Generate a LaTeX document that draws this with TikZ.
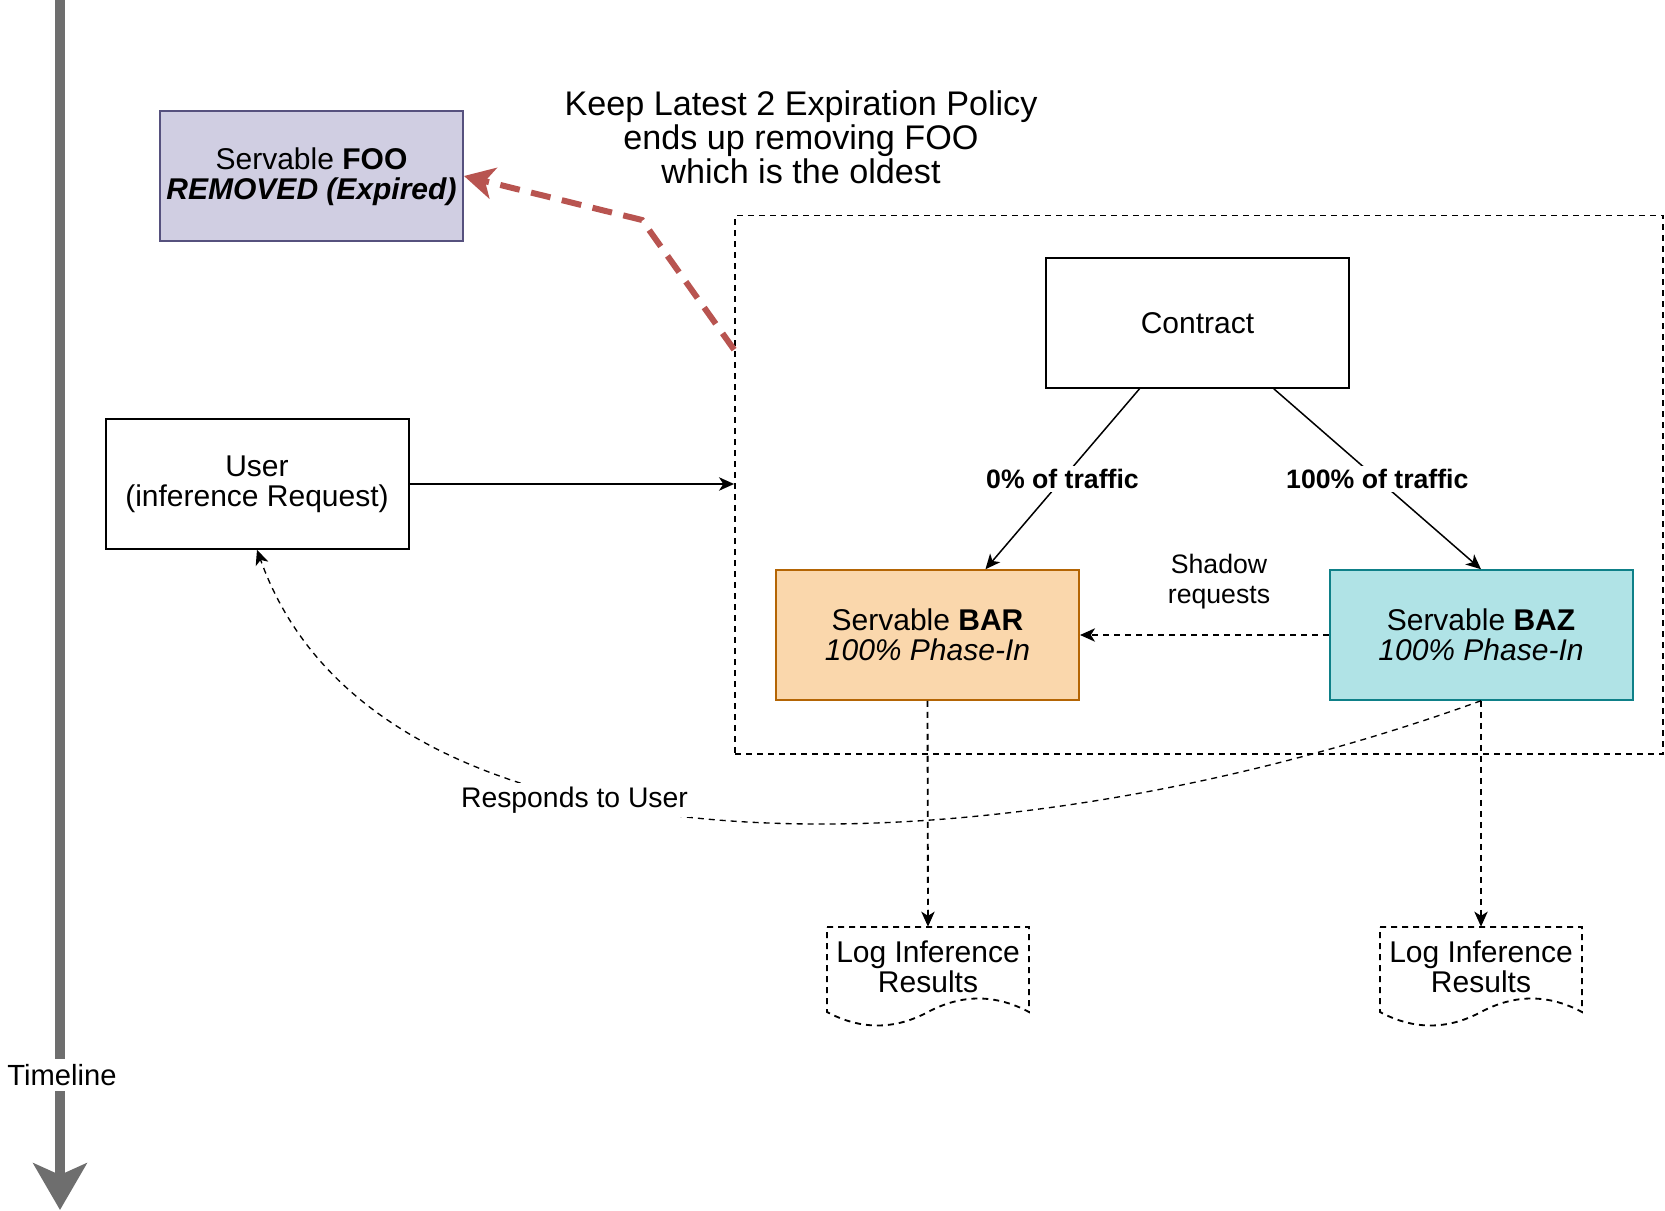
\documentclass[tikz,border=0pt]{standalone}
\usepackage{fontspec}
\setmainfont{Liberation Sans}
\usetikzlibrary{arrows.meta,calc}
\definecolor{foofill}{HTML}{D0CEE2}
\definecolor{foodraw}{HTML}{56517E}
\definecolor{barfill}{HTML}{FAD7AC}
\definecolor{bardraw}{HTML}{B46504}
\definecolor{bazfill}{HTML}{B0E3E6}
\definecolor{bazdraw}{HTML}{0E8088}
\definecolor{expired}{HTML}{B85450}
\definecolor{tlgray}{HTML}{6E6E6E}

\begin{document}
\begin{tikzpicture}[x=0.6pt,y=-0.6pt]
\tikzstyle{every node}+=[inner sep=0pt, align=center, font=\fontsize{18}{18}\selectfont]
\tikzstyle{box}=[draw=black, line width=1.2pt, minimum width=181.8pt, minimum height=77.7pt]
\tikzstyle{lbl}=[fill=white, inner sep=2pt, font=\fontsize{16}{18}\selectfont]
\tikzstyle{tip}=[-{Stealth[length=9pt,width=8pt,inset=2.5pt]}]
\tikzstyle{dashline}=[dash pattern=on 3.6pt off 3pt, line width=1.1pt]
\useasboundingbox (0,0) rectangle (1665,1211);
% timeline on the left
\coordinate (tltop) at (60,0);
\coordinate (tlend) at (60,1210);
\draw [tlgray, line width=6pt, -{Stealth[length=28pt,width=32pt,inset=7pt]}] (tltop) -- (tlend);
\node [fill=white, inner sep=3pt, font=\fontsize{17.5}{18}\selectfont] (timeline) at (62,1075) {Timeline};
% boxes
\node [box, draw=foodraw, fill=foofill, text depth=3pt] (foo) at (311.5,176) {Servable \textbf{FOO}\\\textbf{\textit{REMOVED (Expired)}}};
\node [font=\fontsize{20.5}{20.4}\selectfont] (policy) at (801,137) {Keep Latest 2 Expiration Policy\\ends up removing FOO\\which is the oldest};
\node [draw, dash pattern=on 3.6pt off 3pt, line width=1.1pt, minimum width=556.8pt, minimum height=323.1pt] (servgroup) at (1199,484.75) {};
\node [box] (contract) at (1197.5,323) {Contract};
\node [box, text depth=3pt] (user) at (257,484) {User\\(inference Request)};
\node [box, draw=bardraw, fill=barfill] (bar) at (927.5,635) {Servable \textbf{BAR}\\\textit{100\% Phase-In}};
\node [box, draw=bazdraw, fill=bazfill] (baz) at (1481,635) {Servable \textbf{BAZ}\\\textit{100\% Phase-In}};
% log documents
\foreach \n/\x in {barlog/928, bazlog/1481} {
  \draw [dashline] ({\x-101},927) -- ({\x+101},927) -- ({\x+101},1012)
    .. controls ({\x+67.3},994) and ({\x+33.7},994) .. (\x,1012)
    .. controls ({\x-33.7},1030) and ({\x-67.3},1030) .. ({\x-101},1012) -- cycle;
  \node [minimum width=121.2pt, minimum height=48pt] (\n) at (\x,967) {Log Inference\\Results};
}
% connectors
\coordinate (bend) at (642,220);
\draw [expired, line width=3.6pt, dash pattern=on 12pt off 7pt, -{Stealth[length=18pt,width=19pt,inset=5pt]}]
  ($(servgroup.north west)!0.25!(servgroup.south west)$) -- (bend) -- (foo.east);
\draw [line width=1.1pt, tip] (user.east) -- (user.east -| servgroup.west);
\draw [line width=0.9pt, tip] ($(contract.south west)!0.31!(contract.south east)$) -- ($(bar.north west)!0.69!(bar.north east)$)
  node [midway, lbl, font=\fontsize{16}{18}\selectfont\bfseries] {0\% of traffic};
\draw [line width=0.9pt, tip] ($(contract.south west)!0.75!(contract.south east)$) -- (baz.north)
  node [midway, lbl, font=\fontsize{16}{18}\selectfont\bfseries] {100\% of traffic};
\draw [dashline, tip] (baz.west) -- (bar.east);
\node [lbl] (shadow) at (1219,582) {Shadow\\requests};
\draw [dashline, tip] (bar.south) -- (barlog.north);
\draw [dashline, tip] (baz.south) -- (bazlog.north);
\draw [dashline, line width=0.8pt, tip] (baz.south) .. controls (1000,875) and (380,895) .. (user.south);
\node [lbl, font=\fontsize{17}{18}\selectfont] (resp) at (574.5,800) {Responds to User};
\end{tikzpicture}
\end{document}
